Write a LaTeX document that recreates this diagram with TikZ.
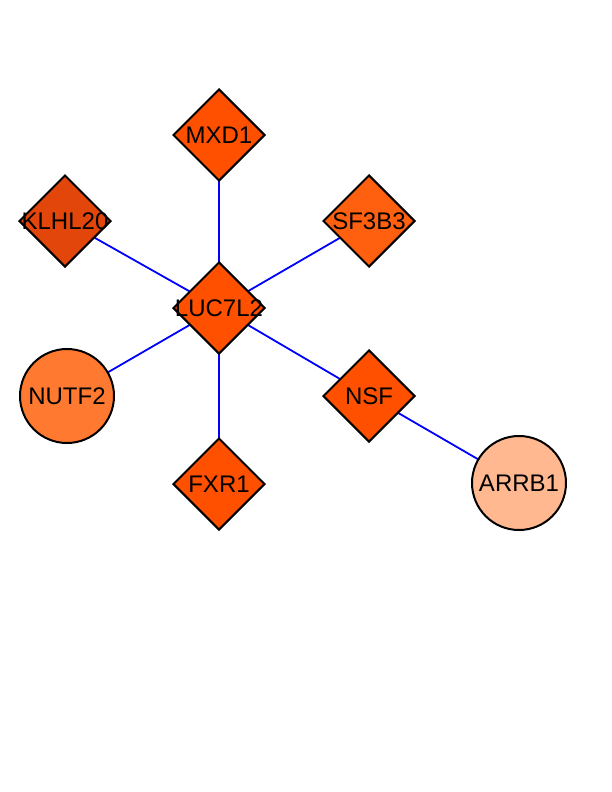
\documentclass[tikz,border=0pt]{standalone}
\usepackage{fontspec}
\setmainfont{Liberation Sans}
\usetikzlibrary{shapes.geometric,backgrounds}

\definecolor{hubred}{RGB}{255,80,0}
\definecolor{darkred}{RGB}{226,70,10}
\definecolor{midred}{RGB}{255,96,16}
\definecolor{nutfcol}{RGB}{255,122,48}
\definecolor{arrbcol}{RGB}{255,184,144}
\definecolor{edgeblue}{RGB}{0,0,255}

\tikzset{
  genefont/.style={font=\fontsize{24}{24}\selectfont},
  gene/.style={draw=black, line width=2pt, inner sep=0pt, genefont},
  dmd/.style={gene, diamond, minimum width=92pt, minimum height=92pt},
  circ/.style={gene, circle, minimum size=94pt},
  every label/.style={genefont, inner sep=0pt},
  link/.style={draw=edgeblue, line width=1.8pt}
}

\begin{document}
\begin{tikzpicture}[x=1pt, y=-1pt]
      \useasboundingbox (0, 0) rectangle (612, 792);
      % Nodes:
      \node[dmd, fill=hubred, label={center:LUC7L2}](N1) at (219, 308){};
      \node[dmd, fill=hubred, label={center:MXD1}](N2) at (219, 135){};
      \node[dmd, fill=darkred, label={center:KLHL20}](N3) at (65, 221){};
      \node[dmd, fill=midred, label={center:SF3B3}](N4) at (369, 221){};
      \node[circ, fill=nutfcol](N5) at (67, 396){NUTF2};
      \node[dmd, fill=hubred, label={center:NSF}](N6) at (369, 396){};
      \node[dmd, fill=hubred, label={center:FXR1}](N7) at (219, 484){};
      \node[circ, fill=arrbcol](N8) at (519, 483){ARRB1};
      % Edges:
      \begin{scope}[on background layer]
        \draw[link] (N1.center) -- (N2.center);
        \draw[link] (N1.center) -- (N3.center);
        \draw[link] (N1.center) -- (N4.center);
        \draw[link] (N1.center) -- (N5.center);
        \draw[link] (N1.center) -- (N6.center);
        \draw[link] (N1.center) -- (N7.center);
        \draw[link] (N6.center) -- (N8.center);
      \end{scope}
    \end{tikzpicture}
\end{document}
